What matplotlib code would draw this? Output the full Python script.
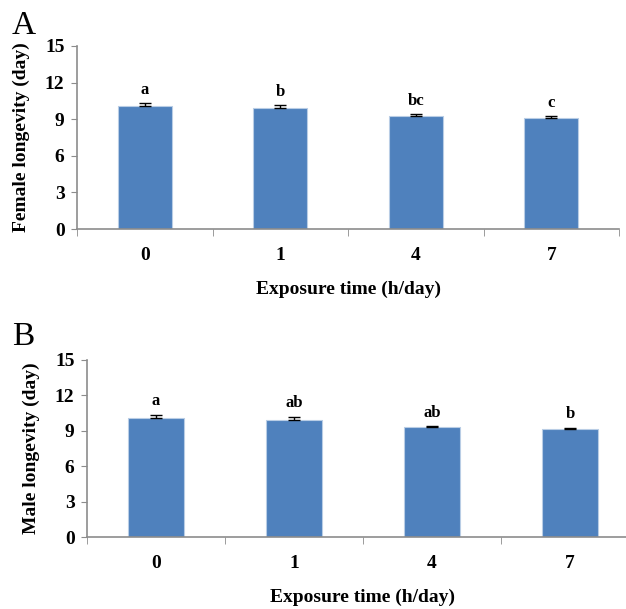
import matplotlib
matplotlib.use("Agg")
import matplotlib.pyplot as plt
import numpy as np

categories = ["0", "1", "4", "7"]
female_vals = [10.08, 9.89, 9.26, 9.10]
female_err = [0.22, 0.24, 0.14, 0.13]
female_letters = ["a", "b", "bc", "c"]
male_vals = [10.12, 9.95, 9.30, 9.14]
male_err = [0.24, 0.24, 0.12, 0.12]
male_letters = ["a", "ab", "ab", "b"]
yticks = [0, 3, 6, 9, 12, 15]

plt.rcParams['font.family'] = ['Liberation Serif', 'DejaVu Serif']
W, H = 626, 609
fig = plt.figure(figsize=(W / 100, H / 100), dpi=100)

bar_color = "#4F81BD"
axis_color = "#8C8C8C"

def panel(rect, vals, errs, letters, ylabel, tag, tagpos):
    l, t, r, b = rect
    ax = fig.add_axes([l / W, 1 - b / H, (r - l) / W, (b - t) / H])
    x = np.arange(len(categories))
    ax.bar(x, vals, width=0.4, color=bar_color, edgecolor="#B9CDE5", linewidth=0.8, zorder=2)
    ax.errorbar(x, vals, yerr=[np.zeros(len(errs)), errs], fmt="none", ecolor="black",
                elinewidth=1, capsize=4, capthick=1, zorder=3)
    for xi, v, e, s in zip(x, vals, errs, letters):
        ax.text(xi, v + e + 0.45, s, ha="center", va="bottom", fontsize=12, fontweight="bold")
    ax.set_xlim(-0.5, len(categories) - 0.5)
    ax.set_ylim(0, 15)
    ax.set_yticks(yticks)
    ax.set_yticklabels([str(v) for v in yticks], fontsize=14, fontweight="bold")
    ax.set_xticks(x)
    ax.set_xticklabels(categories, fontsize=14, fontweight="bold")
    ax.tick_params(axis="x", length=0, pad=13)
    ax.set_xticks(np.arange(-0.5, len(categories)), minor=True)
    ax.tick_params(axis="x", which="minor", length=5, color=axis_color, direction="out")
    ax.tick_params(axis="y", length=4, color=axis_color, direction="out", pad=5)
    for s in ["top", "right"]:
        ax.spines[s].set_visible(False)
    for s in ["left", "bottom"]:
        ax.spines[s].set_color(axis_color)
        ax.spines[s].set_linewidth(1.2)
    ax.set_ylabel(ylabel, fontsize=14, fontweight="bold", labelpad=11)
    ax.set_xlabel("Exposure time (h/day)", fontsize=14, fontweight="bold", labelpad=12)
    fig.text(tagpos[0] / W, 1 - tagpos[1] / H, tag, fontsize=24, ha="left", va="baseline")
    return ax

panel((77, 46, 619, 229), female_vals, female_err, female_letters,
      "Female longevity (day)", "A", (12, 34))
panel((87, 360, 639, 537), male_vals, male_err, male_letters,
      "Male longevity (day)", "B", (12, 345))

fig.savefig("out.png", dpi=100)
